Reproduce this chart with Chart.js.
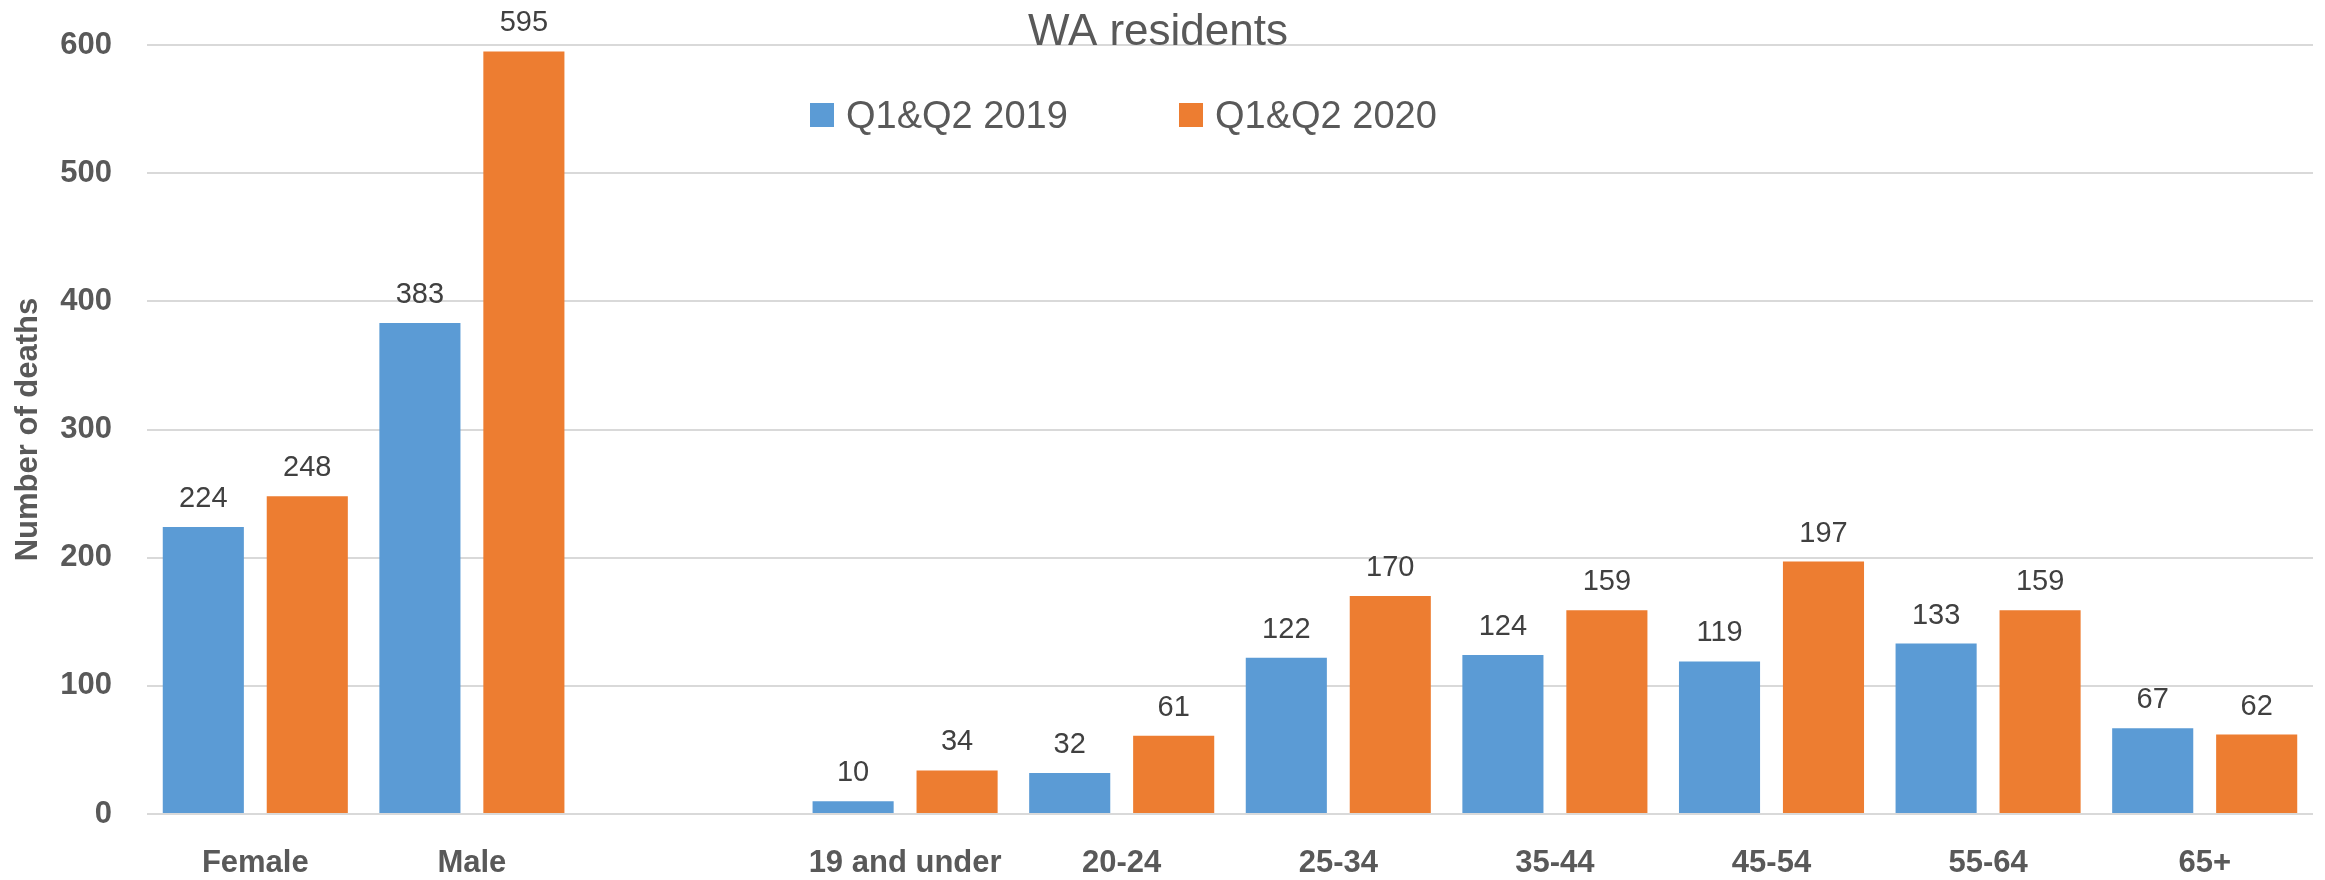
<!DOCTYPE html>
<html>
<head>
<meta charset="utf-8">
<title>WA residents</title>
<script src="https://cdn.jsdelivr.net/npm/chart.js@4"></script>
<style>
   body { margin: 0; background: #ffffff; }
   #wrap { width: 2325px; height: 880px; }
</style>
</head>
<body>
<div id="wrap"><canvas id="deaths_chart" width="2325" height="880"></canvas></div>
<script>
// categories (empty slot keeps the gap between sex and age groups)
var categories = ["Female", "Male", "", "19 and under", "20-24", "25-34", "35-44", "45-54", "55-64", "65+"];
var series_names = ["Q1&Q2 2019", "Q1&Q2 2020"];
var deaths_2019 = [224, 383, null, 10, 32, 122, 124, 119, 133, 67];
var deaths_2020 = [248, 595, null, 34, 61, 170, 159, 197, 159, 62];
var y_ticks = [0, 100, 200, 300, 400, 500, 600];

var blue = "#5b9bd5";
var orange = "#ed7d31";
var grey_text = "#595959";

// value labels above each bar
var barLabels = {
   id: "barLabels",
   afterDatasetsDraw: function (chart) {
      var ctx = chart.ctx;
      ctx.save();
      ctx.font = "29px 'Liberation Sans'";
      ctx.fillStyle = "#404040";
      ctx.textAlign = "center";
      ctx.textBaseline = "alphabetic";
      chart.data.datasets.forEach(function (ds, i) {
         var meta = chart.getDatasetMeta(i);
         meta.data.forEach(function (bar, j) {
            var v = ds.data[j];
            if (v === null) return;
            ctx.fillText(String(v), bar.x, bar.y - 20);
         });
      });
      ctx.restore();
   }
};

// title and legend sit over the plot, like the excel chart
var titleLegend = {
   id: "titleLegend",
   afterDraw: function (chart) {
      var ctx = chart.ctx;
      ctx.save();
      ctx.fillStyle = grey_text;
      ctx.textAlign = "center";
      ctx.textBaseline = "alphabetic";
      ctx.font = "44px 'Liberation Sans'";
      ctx.fillText("WA residents", 1158, 45);

      var items = [
         { x: 810, color: blue, text: series_names[0] },
         { x: 1179, color: orange, text: series_names[1] }
      ];
      ctx.font = "38px 'Liberation Sans'";
      ctx.textAlign = "left";
      items.forEach(function (it) {
         ctx.fillStyle = it.color;
         ctx.fillRect(it.x, 103, 24, 24);
         ctx.fillStyle = grey_text;
         ctx.fillText(it.text, it.x + 36, 128);
      });
      ctx.restore();
   }
};

var data = {
   labels: categories,
   datasets: [{
      label: series_names[0],
      data: deaths_2019,
      backgroundColor: blue,
      categoryPercentage: 0.96,
      barPercentage: 0.78
   }, {
      label: series_names[1],
      data: deaths_2020,
      backgroundColor: orange,
      categoryPercentage: 0.96,
      barPercentage: 0.78
   }]
};

var config = {
   type: "bar",
   data: data,
   plugins: [barLabels, titleLegend],
   options: {
      responsive: false,
      animation: false,
      layout: { padding: { top: 45, right: 12, bottom: 0, left: 0 } },
      plugins: {
         legend: { display: false },
         title: { display: false },
         tooltip: { enabled: false }
      },
      scales: {
         x: {
            grid: { display: false },
            border: { display: false },
            ticks: {
               color: grey_text,
               padding: 23,
               maxRotation: 0,
               autoSkip: false,
               font: { family: "'Liberation Sans'", size: 31, weight: "bold" }
            },
            afterFit: function (scale) { scale.height = 66; }
         },
         y: {
            min: y_ticks[0],
            max: y_ticks[y_ticks.length - 1],
            grid: { color: "#d9d9d9", lineWidth: 2, drawTicks: false },
            border: { display: false },
            ticks: {
               stepSize: y_ticks[1] - y_ticks[0],
               color: grey_text,
               padding: 35,
               font: { family: "'Liberation Sans'", size: 31, weight: "bold" }
            },
            title: {
               display: true,
               text: "Number of deaths",
               color: grey_text,
               padding: { top: 10, bottom: 0 },
               font: { family: "'Liberation Sans'", size: 31, weight: "bold" }
            },
            afterFit: function (scale) {
               scale.width = 147;
               // tick padding would otherwise push the plot top down
               scale.paddingTop = 0;
               scale.paddingBottom = 0;
            }
         }
      }
   }
};

var myChart = new Chart(document.getElementById("deaths_chart"), config);
</script>
</body>
</html>
